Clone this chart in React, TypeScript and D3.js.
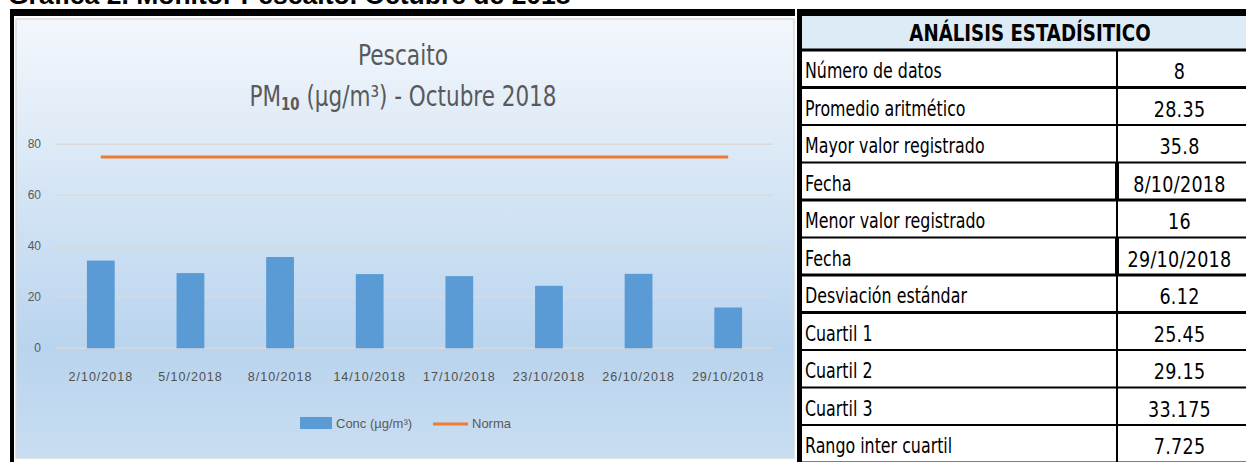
import { useEffect, useRef } from 'react';
import * as d3 from 'd3';

const dates = ['2/10/2018', '5/10/2018', '8/10/2018', '14/10/2018', '17/10/2018', '23/10/2018', '26/10/2018', '29/10/2018'];
const conc = [34.4, 29.5, 35.8, 29.1, 28.3, 24.5, 29.2, 16];
const norma = [75, 75, 75, 75, 75, 75, 75, 75];
const yTicks = [0, 20, 40, 60, 80];

const statLabels = ['Número de datos', 'Promedio aritmético', 'Mayor valor registrado', 'Fecha', 'Menor valor registrado', 'Fecha', 'Desviación estándar', 'Cuartil 1', 'Cuartil 2', 'Cuartil 3', 'Rango inter cuartil'];
const statValues = ['8', '28.35', '35.8', '8/10/2018', '16', '29/10/2018', '6.12', '25.45', '29.15', '33.175', '7.725'];

const narrow = '"Liberation Sans Narrow", "DejaVu Sans Condensed", "Roboto Condensed", Arial, sans-serif';
const sans = 'Liberation Sans, Arial, sans-serif';

const App = () => {
  const svgRef = useRef(null);

  useEffect(() => {
    const W = 1246, H = 462;
    const svg = d3.select(svgRef.current).attr('width', W).attr('height', H);
    svg.selectAll('*').remove();

    // caption, cut off at the top like in the source
    svg.append('text')
      .attr('x', 8).attr('y', 4)
      .attr('font-family', sans)
      .attr('font-weight', 'bold').attr('font-size', 26.5)
      .text('Gráfica 2. Monitor Pescaito. Octubre de 2018');

    // outer black frame
    svg.append('rect').attr('x', 10).attr('y', 9).attr('width', W - 10).attr('height', 7).attr('fill', '#000');
    svg.append('rect').attr('x', 10).attr('y', 9).attr('width', 4).attr('height', H - 9).attr('fill', '#000');

    // chart area background
    const defs = svg.append('defs');
    const grad = defs.append('linearGradient').attr('id', 'bg').attr('x1', 0).attr('y1', 0).attr('x2', 0).attr('y2', 1);
    grad.append('stop').attr('offset', '0%').attr('stop-color', '#F3F7FC');
    grad.append('stop').attr('offset', '75%').attr('stop-color', '#B9D4EE');
    grad.append('stop').attr('offset', '100%').attr('stop-color', '#C8DDF1');

    svg.append('rect').attr('x', 16).attr('y', 19).attr('width', 778).attr('height', 439)
      .attr('fill', 'url(#bg)').attr('stroke', '#D9D9D9').attr('stroke-width', 1.5);

    // title (condensed a bit more to look like a narrow face)
    svg.append('text')
      .attr('transform', 'translate(403,65) scale(0.88,1)')
      .attr('text-anchor', 'middle').attr('fill', '#595959').attr('font-family', narrow).attr('font-size', 27.5)
      .text('Pescaito');
    const t2 = svg.append('text')
      .attr('transform', 'translate(403,106) scale(0.87,1)')
      .attr('text-anchor', 'middle').attr('fill', '#595959').attr('font-family', narrow).attr('font-size', 27.5);
    t2.append('tspan').text('PM');
    t2.append('tspan').attr('font-size', 17).attr('font-weight', 'bold').attr('dy', 4).text('10');
    t2.append('tspan').attr('dy', -4).text(' (µg/m³) - Octubre 2018');

    const x = d3.scaleBand().domain(dates).range([56, 773]).paddingInner(0.69).paddingOuter(0.345);
    const xc = d3.scalePoint().domain(dates).range([56, 773]).padding(0.5);
    const y = d3.scaleLinear().domain([0, 80]).range([348.3, 144.3]);

    // grid
    svg.append('g').selectAll('line').data(yTicks).enter().append('line')
      .attr('x1', 56).attr('x2', 773)
      .attr('y1', d => y(d)).attr('y2', d => y(d))
      .attr('stroke', '#D9D9D9').attr('stroke-width', 1.5);

    svg.append('g').selectAll('text').data(yTicks).enter().append('text')
      .attr('x', 41).attr('y', d => y(d) + 4)
      .attr('text-anchor', 'end').attr('font-size', 12).attr('fill', '#595959')
      .attr('font-family', sans)
      .text(d => d);

    // bars
    svg.append('g').selectAll('rect').data(conc).enter().append('rect')
      .attr('x', (_, i) => x(dates[i]))
      .attr('width', x.bandwidth())
      .attr('y', d => y(d))
      .attr('height', d => y(0) - y(d))
      .attr('fill', '#5B9BD5');

    // norma line
    const line = d3.line().x((_, i) => xc(dates[i])).y(d => y(d));
    svg.append('path').datum(norma)
      .attr('d', line).attr('fill', 'none').attr('stroke', '#ED7D31').attr('stroke-width', 3);

    // x labels
    svg.append('g').selectAll('text').data(dates).enter().append('text')
      .attr('x', d => xc(d)).attr('y', 381)
      .attr('text-anchor', 'middle').attr('font-size', 12.5).attr('fill', '#505050')
      .attr('letter-spacing', 1)
      .attr('font-family', sans)
      .text(d => d);

    // legend
    const lg = svg.append('g').attr('font-family', sans).attr('font-size', 13).attr('fill', '#595959');
    lg.append('rect').attr('x', 300).attr('y', 417).attr('width', 32).attr('height', 12).attr('fill', '#5B9BD5');
    lg.append('text').attr('x', 336).attr('y', 428).text('Conc (µg/m³)');
    lg.append('line').attr('x1', 433).attr('x2', 468).attr('y1', 424).attr('y2', 424).attr('stroke', '#ED7D31').attr('stroke-width', 3);
    lg.append('text').attr('x', 472).attr('y', 428).text('Norma');

    // stats table
    const tx0 = 802, tx1 = 1117, tx2 = W;
    const rowH = 37.5, top = 50;
    svg.append('rect').attr('x', 795).attr('y', 9).attr('width', 2).attr('height', H).attr('fill', '#fff');
    svg.append('rect').attr('x', tx0).attr('y', 16).attr('width', tx2 - tx0).attr('height', top - 16).attr('fill', '#DDEBF7');
    svg.append('rect').attr('x', 797).attr('y', 9).attr('width', 5).attr('height', H - 9).attr('fill', '#000');
    svg.append('text')
      .attr('transform', `translate(${(tx0 + tx2) / 2 + 6},41) scale(0.88,1)`)
      .attr('text-anchor', 'middle').attr('font-family', narrow).attr('font-weight', 'bold').attr('font-size', 23)
      .text('ANÁLISIS ESTADÍSITICO');

    const rows = statLabels.map((l, i) => ({ label: l, value: statValues[i] }));
    const rowY = d3.scaleLinear().domain([0, rows.length]).range([top, top + rowH * rows.length]);

    const g = svg.append('g');
    g.selectAll('.hl').data(d3.range(rows.length + 1)).enter().append('line')
      .attr('class', 'hl')
      .attr('x1', tx0).attr('x2', tx2)
      .attr('y1', d => rowY(d)).attr('y2', d => rowY(d))
      .attr('stroke', '#000').attr('stroke-width', d => (d === 0 || d === 1 || d === 4 || d === 6 || d === 7) ? 3 : 2);
    g.append('line').attr('x1', tx1).attr('x2', tx1).attr('y1', top).attr('y2', H)
      .attr('stroke', '#000').attr('stroke-width', 2);
    // thick left borders on the two date cells
    g.selectAll('.dl').data([3, 5]).enter().append('line')
      .attr('class', 'dl')
      .attr('x1', tx1).attr('x2', tx1)
      .attr('y1', d => rowY(d)).attr('y2', d => rowY(d + 1))
      .attr('stroke', '#000').attr('stroke-width', 4);

    g.selectAll('.lab').data(rows).enter().append('text')
      .attr('class', 'lab')
      .attr('transform', (_, i) => `translate(${tx0 + 3},${rowY(i) + 28}) scale(0.86,1)`)
      .attr('font-family', narrow).attr('font-size', 20.5)
      .text(d => d.label);
    g.selectAll('.val').data(rows).enter().append('text')
      .attr('class', 'val')
      .attr('transform', (_, i) => `translate(${(tx1 + tx2) / 2 - 2},${rowY(i) + 29}) scale(0.93,1)`)
      .attr('text-anchor', 'middle')
      .attr('font-family', narrow).attr('font-size', 21)
      .attr('letter-spacing', 0.3)
      .text(d => d.value);
  }, []);

  return (
    <div style={{ position: 'absolute', left: 0, top: 0 }}>
      <svg ref={svgRef} style={{ display: 'block' }} />
    </div>
  );
};

export default App;
